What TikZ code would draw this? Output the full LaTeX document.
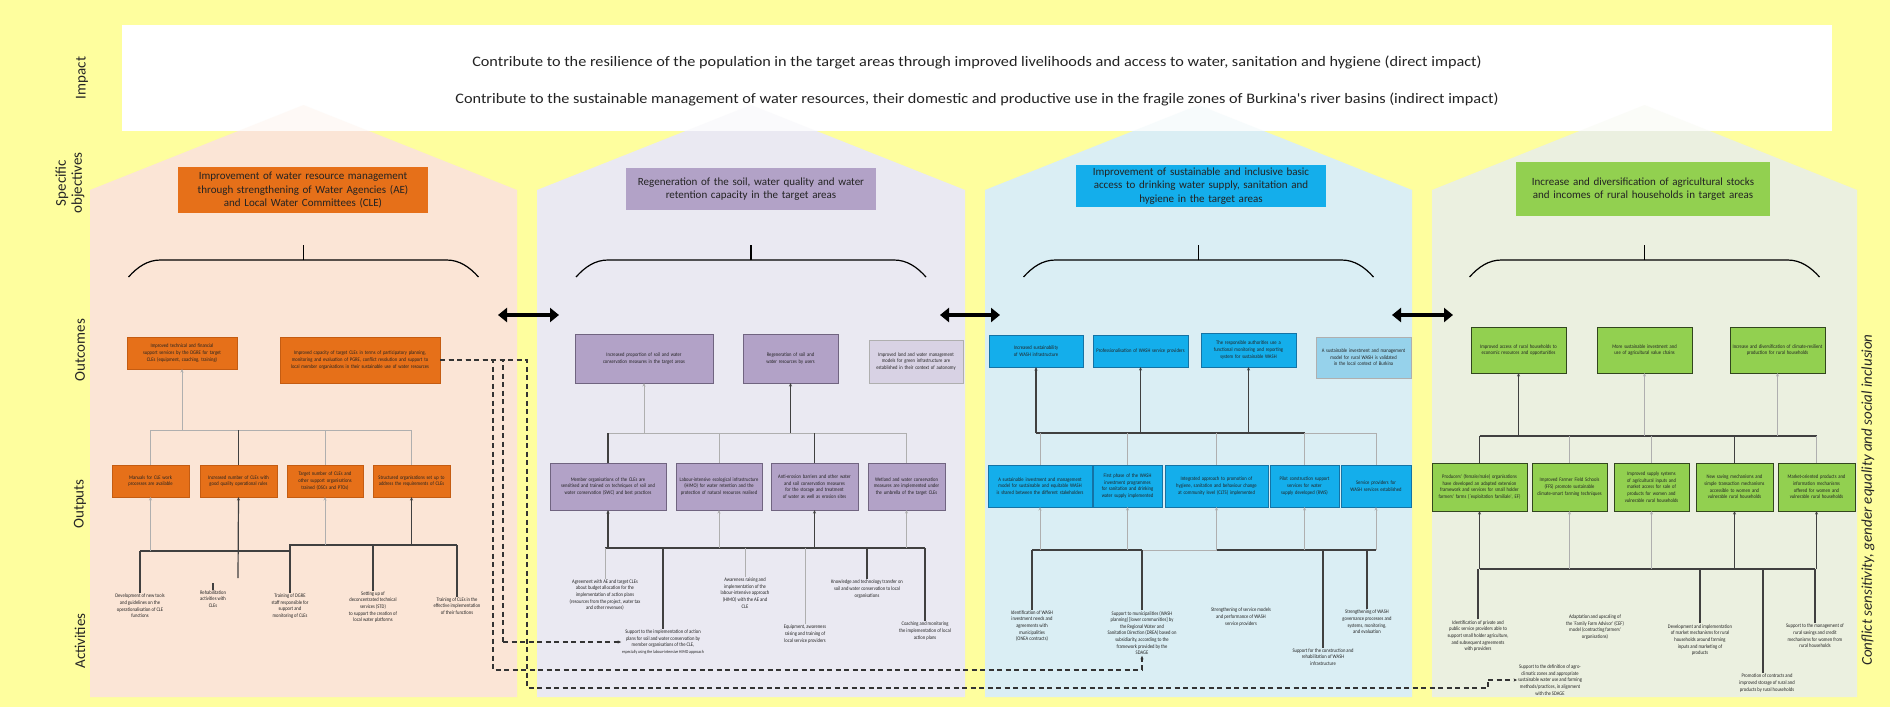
\documentclass[tikz,border=0pt]{standalone}
\usepackage{fontspec}
\setmainfont{Carlito}
\newfontfamily\cnd{Carlito}[FakeStretch=0.85]
\newfontfamily\wde{Carlito}[FakeStretch=1.12]
\usetikzlibrary{arrows.meta}
\definecolor{bgY}{RGB}{254,254,158}
\definecolor{hPeach}{RGB}{251,229,214}
\definecolor{hLav}{RGB}{234,233,242}
\definecolor{hBlue}{RGB}{218,238,244}
\definecolor{hGreen}{RGB}{235,240,224}
\definecolor{cOr}{RGB}{230,112,25}
\definecolor{cOrD}{RGB}{196,92,18}
\definecolor{cPu}{RGB}{178,162,199}
\definecolor{cPuD}{RGB}{112,100,128}
\definecolor{cPuL}{RGB}{216,210,228}
\definecolor{cBl}{RGB}{20,174,235}
\definecolor{cBlD}{RGB}{20,115,165}
\definecolor{cBlL}{RGB}{150,210,235}
\definecolor{cGr}{RGB}{146,208,80}
\definecolor{cGrD}{RGB}{50,70,30}
\definecolor{lnD}{RGB}{64,64,64}
\definecolor{lnG}{RGB}{175,175,175}
\definecolor{txD}{RGB}{35,35,35}
\newcommand\mkbox[7]{%
 \pgfmathsetmacro\mbw{#5-#3}%
 \pgfmathsetmacro\mbh{#6-#4}%
 \pgfmathsetmacro\mbt{#5-#3-4}%
 \pgfmathsetmacro\mbx{(#3+#5)/2}%
 \pgfmathsetmacro\mby{(#4+#6)/2}%
 \node[#2, minimum width=\mbw pt, minimum height=\mbh pt, text width=\mbt pt, inner xsep=2pt, inner ysep=0pt, outer sep=0pt] (#1) at (\mbx,\mby) {#7};}
\begin{document}
\hyphenpenalty=10000 \exhyphenpenalty=10000
\begin{tikzpicture}[x=1pt,y=-1pt,
  sm/.style={font=\cnd\fontsize{5.4}{6.6}\selectfont, text=txD},
  bxo/.style={sm, align=center, fill=cOr, draw=cOrD, line width=0.6pt},
  bxp/.style={sm, align=center, fill=cPu, draw=cPuD, line width=0.6pt},
  bxpl/.style={sm, align=center, fill=cPuL, draw=lnG, line width=0.6pt},
  bxb/.style={sm, align=center, fill=cBl, draw=cBlD, line width=0.6pt},
  bxbl/.style={sm, align=center, fill=cBlL, draw=lnG, line width=0.6pt},
  bxg/.style={sm, align=center, fill=cGr, draw=cGrD, line width=0.8pt},
  objb/.style={align=center, font=\fontsize{11}{13.5}\selectfont, text=txD},
  act/.style={sm, align=center, inner sep=1pt, outer sep=0pt},
  lbl/.style={rotate=90, align=center, font=\fontsize{15}{16}\selectfont, text=black!85},
  dkn/.style={draw=lnD, line width=1.2pt},
  gln/.style={draw=lnG, line width=1pt},
  arw/.style={-{Stealth[length=3.5pt,width=3pt]}},
  dsh/.style={draw=black!80, line width=1.1pt, dash pattern=on 5pt off 3.5pt},
  dbl/.style={line width=4.5pt, {Triangle[length=9pt,width=14pt]}-{Triangle[length=9pt,width=14pt]}},
  brc/.style={draw=black, line width=1.2pt},
  imptx/.style={font=\wde\fontsize{14.5}{16}\selectfont, text=txD}
]
\useasboundingbox (0,0) rectangle (1890,707);
\fill[bgY] (0,0) rectangle (1890,707);
\fill[white] (122,25) rectangle (1832,131);
% houses
\fill[hPeach] (90,697) -- (90,190) -- (303.5,105) -- (517,190) -- (517,697) -- cycle;
\fill[hLav] (537,697) -- (537,190) -- (751,105) -- (965,190) -- (965,697) -- cycle;
\fill[hBlue] (985,697) -- (985,190) -- (1198.5,105) -- (1412,190) -- (1412,697) -- cycle;
\fill[hGreen] (1432,697) -- (1432,190) -- (1644.5,105) -- (1857,190) -- (1857,697) -- cycle;
% impact box (veil over the roofs)
\fill[white, opacity=0.8] (122,25) rectangle (1832,131);
\node[imptx] (imp1) at (977,62) {Contribute to the resilience of the population in the target areas through improved livelihoods and access to water, sanitation and hygiene (direct impact)};
\node[imptx] (imp2) at (977,99) {Contribute to the sustainable management of water resources, their domestic and productive use in the fragile zones of Burkina's river basins (indirect impact)};
% left labels
\node[lbl] (lImp) at (82,78) {Impact};
\node[lbl] (lObj) at (70,183) {Specific\\objectives};
\node[lbl] (lOc) at (80,350) {Outcomes};
\node[lbl] (lOp) at (80,504) {Outputs};
\node[lbl] (lAc) at (80,641) {Activities};
\node[rotate=90, font=\fontsize{15}{18}\selectfont\itshape, text=black!85] (lCs) at (1868,500) {Conflict sensitivity, gender equality and social inclusion};
% objectives
\mkbox{s1}{objb, fill=cOr}{178}{167}{428}{213}{Improvement of water resource management\\through strengthening of Water Agencies (AE)\\and Local Water Committees (CLE)}
\mkbox{s2}{objb, fill=cPu}{626}{168}{876}{210}{Regeneration of the soil, water quality and water\\retention capacity in the target areas}
\mkbox{s3}{objb, fill=cBl}{1076}{165}{1326}{207}{Improvement of sustainable and inclusive basic\\access to drinking water supply, sanitation and\\hygiene in the target areas}
\mkbox{s4}{objb, fill=cGr}{1516}{162}{1770}{216}{Increase and diversification of agricultural stocks\\and incomes of rural households in target areas}
% braces
\foreach \c in {303.5,751,1198.5,1644.5}{
  \draw[brc] ({\c-175},277) .. controls ({\c-166},267) and ({\c-156},260) .. ({\c-143},260) -- ({\c+143},260) .. controls ({\c+156},260) and ({\c+166},267) .. ({\c+175},277);
  \draw[brc] (\c,260) -- (\c,245);
}
% double arrows
\coordinate (ar1l) at (498,315); \coordinate (ar1r) at (559,315);
\coordinate (ar2l) at (940,315); \coordinate (ar2r) at (1000,315);
\coordinate (ar3l) at (1392,315); \coordinate (ar3r) at (1453,315);
\draw[dbl] (ar1l) -- (ar1r);
\draw[dbl] (ar2l) -- (ar2r);
\draw[dbl] (ar3l) -- (ar3r);
% ---------- column 1 ----------
\mkbox{o11}{bxo}{127}{337}{237}{369}{Improved technical and financial support services by the DGRE for target CLEs (equipment, coaching, training)}
\mkbox{o12}{bxo}{280}{337}{440}{383}{Improved capacity of target CLEs in terms of participatory planning, monitoring and evaluation of PGRE, conflict resolution and support to local member organisations in their sustainable use of water resources}
\mkbox{p11}{bxo}{112}{465}{189}{497}{Manuals for CLE work processes are available}
\mkbox{p12}{bxo}{200}{465}{277}{497}{Increased number of CLEs with good quality operational rules}
\mkbox{p13}{bxo}{287}{465}{363}{497}{Target number of CLEs and other support organisations trained (OSCs and PTOs)}
\mkbox{p14}{bxo}{373}{465}{450}{497}{Structured organisations set up to address the requirements of CLEs}
\node[act] (a11) at (140,606) {Development of new tools\\and guidelines on the\\operationalisation of CLE\\functions};
\node[act] (a12) at (213,599) {Rehabilitation\\activities with\\CLEs};
\node[act] (a13) at (290,606) {Training of DGRE\\staff responsible for\\support and\\monitoring of CLEs};
\node[act] (a14) at (373,607) {Setting up of\\deconcentrated technical\\services (STD)\\to support the creation of\\local water platforms};
\node[act] (a15) at (457,606) {Training of CLEs in the\\effective implementation\\of their functions};
\coordinate (h1) at (0,430);
\draw[gln] (p11.north |- h1) -- (p14.north |- h1);
\draw[gln] (p11.north) -- (p11.north |- h1);
\draw[dkn] (p12.north) -- (p12.north |- h1);
\draw[gln] (p13.north) -- (p13.north |- h1);
\draw[gln] (p14.north) -- (p14.north |- h1);
\draw[gln,arw] (o11.south |- h1) -- (o11.south);
\coordinate (k1) at (0,551); \coordinate (k1c) at (0,545);
\draw[dkn] (a11.north |- k1) -- (a13.north |- k1) -- (a13.north |- k1c) -- (a15.north |- k1c);
\draw[dkn] (a11.north) -- (a11.north |- k1);
\draw[dkn] (a13.north) -- (a13.north |- k1);
\draw[dkn] (a14.north) -- (a14.north |- k1c);
\draw[dkn] (a15.north) -- (a15.north |- k1c);
\draw[gln,arw] (p11.south |- k1) -- (p11.south);
\draw[gln,arw] (p13.south |- k1c) -- (p13.south);
\draw[dkn,arw] (p14.south |- k1c) -- (p14.south);
\coordinate (q12) at (238,578);
\draw[dkn,arw] (q12) -- (p12.south);
\draw[dkn] (a12.north) -- ++(0,-7);
% ---------- column 2 ----------
\mkbox{o21}{bxp}{575}{334}{713}{383}{Increased proportion of soil and water conservation measures in the target areas}
\mkbox{o22}{bxp}{743}{334}{838}{383}{Regeneration of soil and water resources by users}
\mkbox{o23}{bxpl}{869}{340}{963}{383}{Improved land and water management models for green infrastructure are established in their context of autonomy}
\mkbox{p21}{bxp}{550}{463}{666}{510}{Member organisations of the CLEs are sensitised and trained on techniques of soil and water conservation (SWC) and best practices}
\mkbox{p22}{bxp}{676}{463}{762}{510}{Labour-intensive ecological infrastructure (HIMO) for water retention and the protection of natural resources realised}
\mkbox{p23}{bxp}{771}{463}{858}{510}{Anti-erosion barriers and other water and soil conservation measures for the storage and treatment of water as well as erosion sites}
\mkbox{p24}{bxp}{868}{463}{945}{510}{Wetland and water conservation measures are implemented under the umbrella of the target CLEs}
\node[act] (a21) at (605,595) {Agreement with AE and target CLEs\\about budget allocation for the\\implementation of action plans\\(resources from the project, water tax\\and other revenues)};
\node[act] (a22) at (663,642) {Support to the implementation of action\\plans for soil and water conservation by\\member organisations of the CLE,\\{\fontsize{4.5}{5.5}\selectfont especially using the labour-intensive HIMO approach}};
\node[act] (a23) at (745,593) {Awareness raising and\\implementation of the\\labour-intensive approach\\(HIMO) with the AE and\\CLE};
\node[act] (a24) at (805,634) {Equipment, awareness\\raising and training of\\local service providers};
\node[act] (a25) at (867,589) {Knowledge and technology transfer on\\soil and water conservation to local\\organisations};
\node[act] (a26) at (925,631) {Coaching and monitoring\\the implementation of local\\action plans};
\coordinate (h2) at (0,433);
\draw[gln] (p21.north |- h2) -- (p24.north |- h2);
\draw[dkn] (p21.north) -- (p21.north |- h2);
\draw[gln] (p22.north) -- (p22.north |- h2);
\draw[dkn] (p23.north) -- (p23.north |- h2);
\draw[gln] (p24.north) -- (p24.north |- h2);
\draw[gln,arw] (o21.south |- h2) -- (o21.south);
\draw[dkn,arw] (o22.south |- h2) -- (o22.south);
\coordinate (k2) at (0,548);
\draw[dkn] (a21.north |- k2) -- (a26.north |- k2);
\draw[gln] (a21.north) -- (a21.north |- k2);
\draw[dkn] (a22.north) -- (a22.north |- k2);
\draw[gln] (a23.north) -- (a23.north |- k2);
\draw[gln] (a24.north) -- (a24.north |- k2);
\draw[dkn] (a25.north) -- (a25.north |- k2);
\draw[dkn] (a26.north) -- (a26.north |- k2);
\draw[dkn,arw] (p21.south |- k2) -- (p21.south);
\draw[gln,arw] (p22.south |- k2) -- (p22.south);
\draw[dkn,arw] (p23.south |- k2) -- (p23.south);
\draw[gln,arw] (p24.south |- k2) -- (p24.south);
% ---------- column 3 ----------
\mkbox{o31}{bxb}{989}{335}{1083}{367}{Increased sustainability of WASH infrastructure}
\mkbox{o32}{bxb}{1093}{335}{1188}{367}{Professionalisation of WASH service providers}
\mkbox{o33}{bxb}{1201}{333}{1296}{367}{The responsible authorities use a functional monitoring and reporting system for sustainable WASH}
\mkbox{o34}{bxbl}{1316}{337}{1411}{378}{A sustainable investment and management model for rural WASH is validated in the local context of Burkina}
\mkbox{p31}{bxb}{988}{465}{1092}{507}{A sustainable investment and management model for sustainable and equitable WASH is shared between the different stakeholders}
\mkbox{p32}{bxb}{1093}{465}{1162}{507}{First phase of the WASH investment programmes for sanitation and drinking water supply implemented}
\mkbox{p33}{bxb}{1165}{465}{1268}{507}{Integrated approach to promotion of hygiene, sanitation and behaviour change at community level (CLTS) implemented}
\mkbox{p34}{bxb}{1270}{465}{1339}{507}{Pilot construction support services for water supply developed (RWS)}
\mkbox{p35}{bxb}{1341}{465}{1411}{507}{Service providers for WASH services established}
\node[act] (a31) at (1032,626) {Identification of WASH\\investment needs and\\agreements with\\municipalities\\(ONEA contracts)};
\node[act] (a32) at (1142,633) {Support to municipalities (WASH\\planning) [lower communities] by\\the Regional Water and\\Sanitation Direction (DREA) based on\\subsidiarity, according to the\\framework provided by the\\SDAGE};
\node[act] (a33) at (1241,617) {Strengthening of service models\\and performance of WASH\\service providers};
\node[act] (a34) at (1323,657) {Support for the construction and\\rehabilitation of WASH\\infrastructure};
\node[act] (a35) at (1367,622) {Strengthening of WASH\\governance processes and\\systems, monitoring,\\and evaluation};
\coordinate (h3) at (0,433);
\draw[gln] (p31.north |- h3) -- (p35.north |- h3);
\draw[dkn] (o31.south |- h3) -- (p34.north |- h3);
\draw[gln] (p31.north) -- (p31.north |- h3);
\draw[gln] (p32.north) -- (p32.north |- h3);
\draw[gln] (p33.north) -- (p33.north |- h3);
\draw[gln] (p34.north) -- (p34.north |- h3);
\draw[gln] (p35.north) -- (p35.north |- h3);
\draw[dkn,arw] (o31.south |- h3) -- (o31.south);
\draw[dkn,arw] (o32.south |- h3) -- (o32.south);
\draw[dkn,arw] (o33.south |- h3) -- (o33.south);
\coordinate (k3) at (0,550);
\draw[gln] (a31.north |- k3) -- (p35.south |- k3);
\draw[dkn] (a31.north |- k3) -- (a32.north |- k3);
\draw[dkn] (p33.south |- k3) -- (p35.south |- k3);
\draw[gln,arw] (p31.south |- k3) -- (p31.south);
\draw[gln,arw] (p32.south |- k3) -- (p32.south);
\draw[gln,arw] (p33.south |- k3) -- (p33.south);
\draw[gln,arw] (p34.south |- k3) -- (p34.south);
\draw[gln,arw] (p35.south |- k3) -- (p35.south);
\draw[dkn] (a31.north) -- (a31.north |- k3);
\draw[dkn] (a32.north) -- (a32.north |- k3);
\draw[dkn] (a34.north) -- (a34.north |- k3);
\draw[dkn] (a35.north) -- (a35.north |- k3);
% ---------- column 4 ----------
\mkbox{o41}{bxg}{1471}{327}{1566}{373}{Improved access of rural households to economic resources and opportunities}
\mkbox{o42}{bxg}{1597}{327}{1692}{373}{More sustainable investment and use of agricultural value chains}
\mkbox{o43}{bxg}{1730}{327}{1825}{373}{Increase and diversification of climate-resilient production for rural households}
\mkbox{p41}{bxg}{1432}{463}{1527}{511}{Producers' (female/male) organisations have developed an adapted extension framework and services for small holder farmers' farms (`exploitation familiale', EF)}
\mkbox{p42}{bxg}{1532}{463}{1607}{511}{Improved Farmer Field Schools (FFS) promote sustainable climate-smart farming techniques}
\mkbox{p43}{bxg}{1614}{463}{1689}{511}{Improved supply systems of agricultural inputs and market access for sale of products for women and vulnerable rural households}
\mkbox{p44}{bxg}{1696}{463}{1773}{511}{New saving mechanisms and simple transaction mechanisms accessible to women and vulnerable rural households}
\mkbox{p45}{bxg}{1778}{463}{1855}{511}{Market-oriented products and information mechanisms offered for women and vulnerable rural households}
\node[act] (a41) at (1478,636) {Identification of private and\\public service providers able to\\support small holder agriculture,\\and subsequent agreements\\with providers};
\node[act] (a42) at (1595,627) {Adaptation and upscaling of\\the `Family Farm Advisor' (CEF)\\model (contracting farmers'\\organisations)};
\node[act] (a43) at (1700,640) {Development and implementation\\of market mechanisms for rural\\households around farming\\inputs and marketing of\\products};
\node[act] (a44) at (1815,636) {Support to the management of\\rural savings and credit\\mechanisms for women from\\rural households};
\node[act] (a45) at (1550,680) {Support to the definition of agro-\\climatic zones and appropriate\\sustainable water use and farming\\methods/practices, in alignment\\with the SDAGE};
\node[act] (a46) at (1767,683) {Promotion of contracts and\\improved storage of rural and\\products by rural households};
\coordinate (h4) at (0,436);
\draw[dkn] (p41.north |- h4) -- (p45.north |- h4);
\draw[dkn] (p41.north) -- (p41.north |- h4);
\draw[gln] (p42.north) -- (p42.north |- h4);
\draw[gln] (p43.north) -- (p43.north |- h4);
\draw[dkn] (p44.north) -- (p44.north |- h4);
\draw[gln] (p45.north) -- (p45.north |- h4);
\draw[dkn,arw] (o41.south |- h4) -- (o41.south);
\draw[gln,arw] (o42.south |- h4) -- (o42.south);
\draw[gln,arw] (o43.south |- h4) -- (o43.south);
\coordinate (k4) at (0,569);
\draw[dkn] (p41.south |- k4) -- (a44.north |- k4);
\draw[dkn,arw] (p41.south |- k4) -- (p41.south);
\draw[gln,arw] (p42.south |- k4) -- (p42.south);
\draw[gln,arw] (p43.south |- k4) -- (p43.south);
\draw[dkn,arw] (p44.south |- k4) -- (p44.south);
\draw[dkn,arw] (p45.south |- k4) -- (p45.south);
\draw[dkn] (a41.north) -- (a41.north |- k4);
\draw[dkn] (a43.north) -- (a43.north |- k4);
\draw[dkn] (a44.north) -- (a44.north |- k4);
\coordinate (q46) at (1763,569);
\draw[dkn] (q46) -- (q46 |- a46.north);
% ---------- dashed links ----------
\coordinate (dA1) at (493,360); \coordinate (dA2) at (493,670); \coordinate (dA3) at (1142,670);
\coordinate (dB1) at (503,360); \coordinate (dB2) at (503,642);
\coordinate (dC1) at (527,360); \coordinate (dC2) at (527,688); \coordinate (dC3) at (1488,688); \coordinate (dC4) at (1488,680);
\draw[dsh] (o12.east) -- (dC1) -- (dC2) -- (dC3) -- (dC4);
\draw[dsh,arw] (dC4) -- (a45.west);
\draw[dsh] (o12.east) -- (dA1) -- (dA2) -- (dA3);
\draw[dsh,arw] (dA3) -- (a32.south);
\draw[dsh] (o12.east) -- (dB1) -- (dB2);
\draw[dsh,arw] (dB2) -- (a22.west);
\end{tikzpicture}
\end{document}
